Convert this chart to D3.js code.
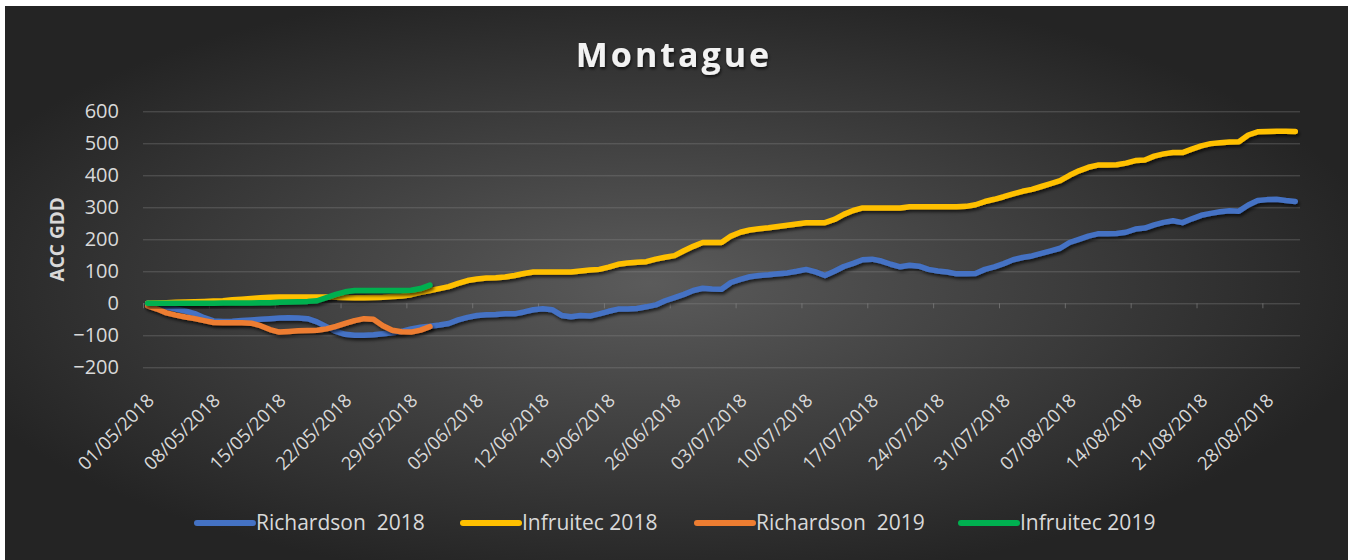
<!DOCTYPE html>
<html>
<head>
<meta charset="utf-8">
<script src="https://cdn.jsdelivr.net/npm/d3@7"></script>
<style>
  html, body { margin: 0; padding: 0; background: #fff; }
  svg { display: block; }
</style>
</head>
<body>
<svg id="chart"></svg>
<script>
// Daily dates 01/05/2018 .. 31/08/2018
const days = d3.timeDay.range(new Date(2018, 4, 1), new Date(2018, 8, 1));
const dateFmt = d3.timeFormat("%d/%m/%Y");

const yTicks = [-200, -100, 0, 100, 200, 300, 400, 500, 600];

const seriesNames = ["Richardson  2018", "Infruitec 2018", "Richardson  2019", "Infruitec 2019"];
const seriesColors = ["#4472C4", "#FFC000", "#ED7D31", "#00B050"];

// Accumulated GDD, one value per day
const richardson2018 = [
  0, -5, -12, -18, -24, -32, -45, -55, -57, -56,
  -54, -52, -50, -48, -46, -45, -46, -48, -58, -73,
  -88, -97, -100, -100, -98, -95, -92, -88, -80, -75,
  -72, -68, -63, -52, -44, -38, -36, -35, -33, -33,
  -27, -20, -17, -20, -38, -42, -38, -40, -33, -25,
  -18, -18, -16, -11, -5, 8, 18, 28, 40, 47,
  45, 44, 65, 75, 83, 87, 89, 92, 95, 100,
  106, 98, 87, 100, 115, 125, 136, 138, 132, 122,
  114, 119, 116, 106, 101, 98, 92, 92, 93, 106,
  114, 124, 136, 143, 148, 156, 164, 172, 190, 200,
  210, 217, 217, 218, 222, 232, 235, 245, 253, 258,
  252, 264, 275, 281, 286, 289, 288, 307, 321, 324,
  325, 321, 318
];

const infruitec2018 = [
  0, 1, 2, 3, 4, 5, 6, 7, 8, 11,
  13, 15, 17, 19, 20, 20, 20, 20, 20, 20,
  19, 18, 17, 17, 18, 19, 21, 23, 27, 34,
  40, 46, 52, 62, 71, 76, 79, 80, 82, 87,
  93, 98, 98, 98, 98, 98, 101, 104, 106, 113,
  122, 126, 128, 130, 138, 144, 149, 164, 178, 190,
  190, 190, 210, 222, 229, 233, 236, 240, 244, 248,
  252, 252, 252, 262, 278, 290, 298, 298, 298, 298,
  298, 302, 302, 302, 302, 302, 302, 303, 308, 318,
  325, 333, 342, 350, 356, 365, 374, 383, 400, 414,
  425, 432, 432, 433, 438, 446, 448, 460, 467, 471,
  471, 482, 492, 499, 502, 504, 505, 526, 536, 537,
  538, 538, 537
];

const richardson2019 = [
  -8, -18, -30, -37, -43, -48, -54, -60, -61, -61,
  -61, -62, -70, -82, -90, -88, -86, -85, -84, -80,
  -72, -63, -54, -48, -50, -70, -84, -89, -90, -84,
  -73
];

const infruitec2019 = [
  0, 0, 0, 0, 0, 0, 0, 0, 1, 1,
  1, 1, 2, 2, 3, 4, 5, 6, 8, 18,
  28, 36, 40, 40, 40, 40, 40, 40, 41, 46,
  57
];

const allSeries = [richardson2018, infruitec2018, richardson2019, infruitec2019];

const W = 1348, H = 560;
const plot = { left: 143, right: 1300, top: 111.3, bottom: 367.3 };

const svg = d3.select("#chart").attr("width", W).attr("height", H);
const defs = svg.append("defs");

const grad = defs.append("radialGradient").attr("id", "bg")
  .attr("cx", "48%").attr("cy", "50%").attr("r", "55%");
grad.append("stop").attr("offset", "0%").attr("stop-color", "#5b5b5b");
grad.append("stop").attr("offset", "100%").attr("stop-color", "#242424");

const shadow = defs.append("filter").attr("id", "shadow")
  .attr("x", "-10%").attr("y", "-30%").attr("width", "120%").attr("height", "160%");
shadow.append("feDropShadow").attr("dx", 1.5).attr("dy", 2.5)
  .attr("stdDeviation", 1.8).attr("flood-color", "#000").attr("flood-opacity", 0.65);

const tshadow = defs.append("filter").attr("id", "tshadow");
tshadow.append("feDropShadow").attr("dx", 1).attr("dy", 2)
  .attr("stdDeviation", 1.5).attr("flood-color", "#000").attr("flood-opacity", 0.7);

// Background
svg.append("rect").attr("x", 5).attr("y", 6).attr("width", W - 5).attr("height", H - 6)
  .attr("fill", "url(#bg)");

// Scales
const x = d3.scaleBand().domain(d3.range(days.length)).range([plot.left, plot.right]);
const cx = i => x(i) + x.bandwidth() / 2;
const xEdge = d3.scaleLinear().domain([0, days.length]).range([plot.left, plot.right]);
const y = d3.scaleLinear().domain([-200, 600]).range([plot.bottom, plot.top]);

// Gridlines
svg.append("g")
  .attr("transform", `translate(${plot.left},0)`)
  .call(d3.axisLeft(y).tickValues(yTicks).tickSize(-(plot.right - plot.left)).tickFormat(""))
  .call(g => g.select(".domain").remove())
  .call(g => g.selectAll("line").attr("stroke", "#8a8a8a").attr("stroke-opacity", 0.45));

// Y tick labels
svg.append("g")
  .attr("transform", `translate(${plot.left},0)`)
  .call(d3.axisLeft(y).tickValues(yTicks).tickSize(0).tickPadding(24))
  .call(g => g.select(".domain").remove())
  .call(g => g.selectAll("text")
    .attr("fill", "#d9d9d9")
    .style("font-family", "'Open Sans', sans-serif")
    .style("font-size", "20px"));

// X tick marks on the zero line
svg.append("g")
  .attr("transform", `translate(0,${y(0)})`)
  .call(d3.axisBottom(xEdge).tickValues(d3.range(0, days.length + 1, 7)).tickSize(5).tickFormat(""))
  .call(g => g.select(".domain").remove())
  .call(g => g.selectAll("line").attr("stroke", "#8a8a8a").attr("stroke-opacity", 0.6));

// Date labels
const labelIdx = d3.range(0, days.length, 7);
svg.append("g").selectAll("text")
  .data(labelIdx)
  .join("text")
  .attr("transform", i => `translate(${cx(i) + 3},${plot.bottom + 30}) rotate(-45)`)
  .attr("text-anchor", "end")
  .attr("dy", "0.35em")
  .attr("fill", "#d9d9d9")
  .style("font-family", "'Open Sans', sans-serif")
  .style("font-size", "18.5px")
  .text(i => dateFmt(days[i]));

// Y axis title
svg.append("text")
  .attr("transform", `translate(57,${(plot.top + plot.bottom) / 2}) rotate(-90)`)
  .attr("text-anchor", "middle")
  .attr("dy", "0.35em")
  .attr("fill", "#d9d9d9")
  .style("font-family", "'Open Sans', sans-serif")
  .style("font-weight", "bold")
  .style("font-size", "19px")
  .text("ACC GDD");

// Title
svg.append("text")
  .attr("x", 674).attr("y", 67)
  .attr("text-anchor", "middle")
  .attr("fill", "#f2f2f2")
  .attr("filter", "url(#tshadow)")
  .style("font-family", "'Open Sans', sans-serif")
  .style("font-weight", "bold")
  .style("font-size", "34px")
  .style("letter-spacing", "3px")
  .text("Montague");

// Lines
const line = d3.line().x((d, i) => cx(i)).y(d => y(d));
svg.append("g").selectAll("path")
  .data(allSeries)
  .join("path")
  .attr("d", d => line(d))
  .attr("fill", "none")
  .attr("stroke", (d, i) => seriesColors[i])
  .attr("stroke-width", 5.5)
  .attr("stroke-linejoin", "round")
  .attr("stroke-linecap", "round")
  .attr("filter", "url(#shadow)");

// Legend
const legendX = [197, 463, 697, 961];
const legend = svg.append("g").selectAll("g")
  .data(seriesNames)
  .join("g")
  .attr("transform", (d, i) => `translate(${legendX[i]},523)`);
legend.append("line")
  .attr("x1", 0).attr("x2", 56)
  .attr("stroke", (d, i) => seriesColors[i])
  .attr("stroke-width", 6)
  .attr("stroke-linecap", "round");
legend.append("text")
  .attr("x", 59)
  .attr("dy", "0.35em")
  .attr("fill", "#d9d9d9")
  .style("font-family", "'Open Sans', sans-serif")
  .style("font-size", "21px")
  .style("white-space", "pre")
  .text(d => d);
</script>
</body>
</html>
